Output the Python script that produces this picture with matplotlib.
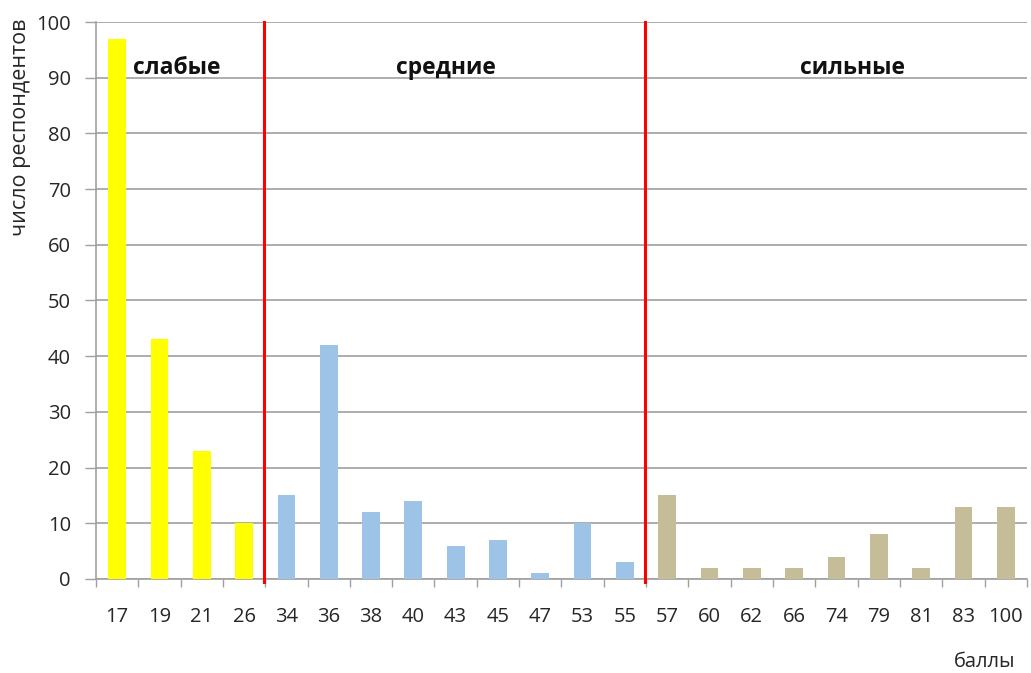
import matplotlib
matplotlib.use("Agg")
import matplotlib.pyplot as plt
from matplotlib.ticker import FixedLocator, NullFormatter

plt.rcParams['font.family'] = ['Open Sans', 'DejaVu Sans']

# Scores (x categories) and number of respondents for each group
weak_scores = ["17", "19", "21", "26"]
weak_counts = [97, 43, 23, 10]
mid_scores = ["34", "36", "38", "40", "43", "45", "47", "53", "55"]
mid_counts = [15, 42, 12, 14, 6, 7, 1, 10, 3]
strong_scores = ["57", "60", "62", "66", "74", "79", "81", "83", "100"]
strong_counts = [15, 2, 2, 2, 4, 8, 2, 13, 13]

group_names = ["слабые", "средние", "сильные"]
group_colors = ["#FFFF00", "#9DC3E6", "#C4BD97"]

groups = [
    (weak_scores, weak_counts),
    (mid_scores, mid_counts),
    (strong_scores, strong_counts),
]

fig = plt.figure(figsize=(10.31, 6.73), dpi=100)
ax = fig.add_axes([0.0931, 0.1397, 0.9029, 0.8276])

grid_color = "#A0A0A0"
labels = []
start = 0
bounds = []
for (scores, counts), color in zip(groups, group_colors):
    xs = list(range(start, start + len(scores)))
    ax.bar(xs, counts, width=0.42, color=color, zorder=3)
    labels += scores
    start += len(scores)
    bounds.append(start)

n = len(labels)
ax.set_xlim(-0.5, n - 0.5)
ax.set_ylim(0, 100)
ax.set_xticks(range(n))
ax.set_xticklabels(labels, fontsize=14.5, color="#262626")
ax.tick_params(axis="x", which="major", length=0, pad=20)
ax.xaxis.set_minor_locator(FixedLocator([i - 0.5 for i in range(n + 1)]))
ax.xaxis.set_minor_formatter(NullFormatter())
ax.tick_params(axis="x", which="minor", length=6, width=1, color=grid_color, direction="out")

ax.set_yticks(range(0, 101, 10))
ax.tick_params(axis="y", length=8, width=1, color=grid_color, direction="out",
               labelsize=14.5, labelcolor="#262626", pad=10)

ax.yaxis.grid(True, color=grid_color, linewidth=1.2, zorder=0)
for side in ["top", "right"]:
    ax.spines[side].set_visible(False)
for side in ["left", "bottom"]:
    ax.spines[side].set_color(grid_color)
    ax.spines[side].set_linewidth(1.2)

# Red separators between score groups
for b, off in zip(bounds[:2], [-0.04, -0.02]):
    ax.plot([b - 0.5 + off, b - 0.5 + off], [-0.6, 100], color="#FF0000",
            linewidth=2.2, zorder=4, clip_on=False)

# Group captions
label_x = [1.41, 7.77, 17.37]
for name, x in zip(group_names, label_x):
    ax.text(x, 91.7, name, fontsize=16.5, fontweight="bold", color="#111111",
            ha="center", va="center", zorder=5)

fig.text(0.0195, 0.811, "число респондентов", rotation=90, fontsize=15.5,
         color="#262626", ha="center", va="center")
fig.text(0.955, 0.0163, "баллы", fontsize=14.5, color="#262626",
         ha="center", va="center")

fig.savefig("out.png", dpi=100, facecolor="white")
